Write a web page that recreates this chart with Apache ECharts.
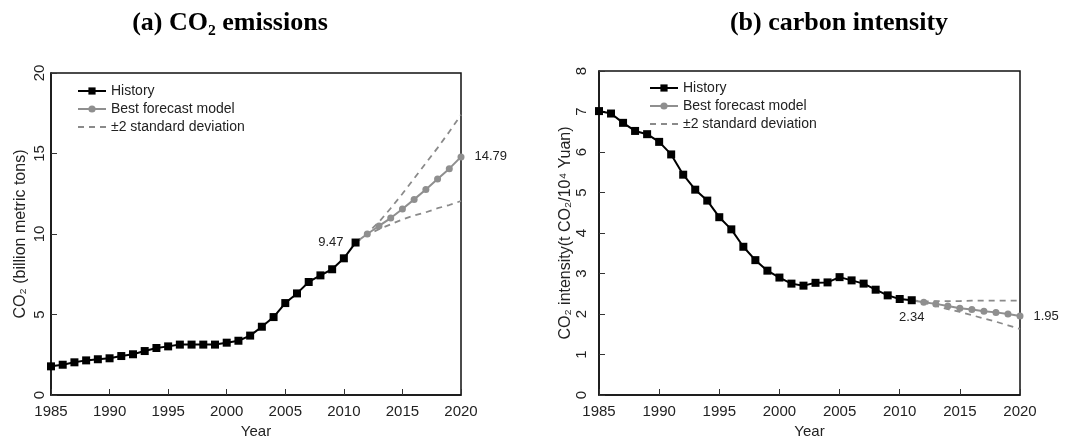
<!DOCTYPE html>
<html>
<head>
<meta charset="utf-8">
<script src="https://cdn.jsdelivr.net/npm/echarts@6/dist/echarts.min.js"></script>
<style>
html,body{margin:0;padding:0;background:#fff;}
#chart{width:1070px;height:438px;}
</style>
</head>
<body>
<div id="chart"></div>
<script>
// ---- data ----
var histYears = [1985,1986,1987,1988,1989,1990,1991,1992,1993,1994,1995,1996,1997,1998,1999,2000,2001,2002,2003,2004,2005,2006,2007,2008,2009,2010,2011];
var co2History = [1.78,1.88,2.03,2.15,2.22,2.28,2.42,2.53,2.73,2.92,3.02,3.13,3.13,3.13,3.13,3.25,3.37,3.69,4.24,4.84,5.71,6.31,7.02,7.43,7.81,8.49,9.47];
var intensityHistory = [7.01,6.95,6.72,6.52,6.44,6.25,5.94,5.44,5.07,4.80,4.39,4.09,3.66,3.33,3.07,2.90,2.75,2.70,2.77,2.78,2.91,2.83,2.75,2.60,2.46,2.37,2.34];

var fcYears = [2011,2012,2013,2014,2015,2016,2017,2018,2019,2020];
var co2Forecast = [9.47,10.0,10.5,10.99,11.55,12.15,12.77,13.42,14.06,14.79];
var co2Upper = [9.47,10.05,10.75,11.6,12.5,13.45,14.4,15.35,16.35,17.4];
var co2Lower = [9.47,9.95,10.3,10.6,10.9,11.15,11.35,11.6,11.8,12.05];

var intensityForecast = [2.34,2.29,2.25,2.20,2.14,2.11,2.07,2.04,2.00,1.95];
var intensityUpper = [2.34,2.31,2.32,2.32,2.32,2.33,2.33,2.33,2.33,2.33];
var intensityLower = [2.34,2.28,2.20,2.12,2.05,1.97,1.89,1.81,1.72,1.63];

var xTicks = {min:1985, max:2020, interval:5};
var leftYTicks = {min:0, max:20, interval:5};
var rightYTicks = {min:0, max:8, interval:1};

var titles = ['(a) CO\u2082 emissions', '(b) carbon intensity'];
var yNames = ['CO\u2082 (billion metric tons)', 'CO\u2082 intensity(t CO\u2082/10\u2074 Yuan)'];
var names = {hist:'History', fc:'Best forecast model', sd:'\u00B12 standard deviation'};

// ---- helpers ----
var font = 'Liberation Sans';
var grey = '#8f8f8f';
var dashGrey = '#8a8a8a';

function valueLabel(pos, dist){
  return {show:true, position:pos, distance:dist,
    formatter: function(p){return p.value[1].toFixed(2);}, color:'#222', fontSize:13, fontFamily:font};
}
function histPoints(xs, ys, pos, dist){
  return xs.map(function(x,i){
    var item = {value:[x, ys[i]]};
    if (i === xs.length-1) item.label = valueLabel(pos, dist);
    return item;
  });
}
function fcPoints(xs, ys, dist){
  return xs.map(function(x,i){
    var item = {value:[x, ys[i]]};
    if (i === 0) item.symbolSize = 0;
    if (i === xs.length-1) item.label = valueLabel('right', dist);
    return item;
  });
}
function simple(xs, ys){ return xs.map(function(x,i){return [x, ys[i]];}); }

function xAxisDef(gi){
  return {
    type:'value', gridIndex:gi, min:xTicks.min, max:xTicks.max, interval:xTicks.interval,
    name:'Year', nameLocation:'middle', nameGap:27,
    nameTextStyle:{color:'#222', fontSize:15, fontFamily:font},
    axisLine:{lineStyle:{color:'#111', width:1.5}},
    axisTick:{inside:true, length:6, lineStyle:{color:'#333'}},
    axisLabel:{color:'#222', fontSize:15, fontFamily:font, margin:9, formatter:function(v){return String(v);}},
    splitLine:{show:false}
  };
}
function yAxisDef(gi, t, name, labMargin, nameGap){
  return {
    type:'value', gridIndex:gi, min:t.min, max:t.max, interval:t.interval,
    name:name, nameLocation:'middle', nameGap:nameGap,
    nameTextStyle:{color:'#222', fontSize:16, fontFamily:font},
    axisLine:{lineStyle:{color:'#111', width:1.5}},
    axisTick:{inside:true, length:6, lineStyle:{color:'#333'}},
    axisLabel:{color:'#222', fontSize:15, fontFamily:font, rotate:90, margin:labMargin},
    splitLine:{show:false}
  };
}

function seriesFor(gi, hist, fc, up, lo, histLabelPos, histLabelDist, fcDist){
  return [
    {name:names.sd, type:'line', xAxisIndex:gi, yAxisIndex:gi, data:simple(fcYears, up), symbol:'none',
      lineStyle:{color:dashGrey, width:1.8, type:[6,5]}, itemStyle:{color:dashGrey}, z:2, silent:true},
    {name:names.sd, type:'line', xAxisIndex:gi, yAxisIndex:gi, data:simple(fcYears, lo), symbol:'none',
      lineStyle:{color:dashGrey, width:1.8, type:[6,5]}, itemStyle:{color:dashGrey}, z:2, silent:true},
    {name:names.fc, type:'line', xAxisIndex:gi, yAxisIndex:gi, data:fcPoints(fcYears, fc, fcDist), symbol:'circle', symbolSize:7,
      lineStyle:{color:grey, width:2}, itemStyle:{color:grey}, z:3},
    {name:names.hist, type:'line', xAxisIndex:gi, yAxisIndex:gi,
      data:histPoints(histYears, hist, histLabelPos, histLabelDist), symbol:'rect', symbolSize:8,
      lineStyle:{color:'#000', width:2}, itemStyle:{color:'#000'}, z:4}
  ];
}

function legendDef(left, top){
  return {
    show:true, orient:'vertical', left:left, top:top, itemWidth:28, itemHeight:9, itemGap:4,
    data:[names.hist, names.fc, {name:names.sd, itemStyle:{opacity:0}}],
    textStyle:{color:'#222', fontSize:14, fontFamily:font},
    selectedMode:false
  };
}

var chart = echarts.init(document.getElementById('chart'), null, {renderer:'canvas'});
var option = {
  backgroundColor:'#fff',
  animation:false,
  title:[
    {text:titles[0], left:225, top:5, textAlign:'center',
      textStyle:{fontFamily:'Liberation Serif', fontWeight:'bold', fontSize:26, color:'#000'}},
    {text:titles[1], left:834, top:5, textAlign:'center',
      textStyle:{fontFamily:'Liberation Serif', fontWeight:'bold', fontSize:26, color:'#000'}}
  ],
  legend:[legendDef(72, 79), legendDef(644, 76)],
  grid:[
    {left:51, right:609, top:73, bottom:43, show:true, borderColor:'#111', borderWidth:1.5, outerBoundsMode:'none', containLabel:false},
    {left:599, right:50, top:71, bottom:43, show:true, borderColor:'#111', borderWidth:1.5, outerBoundsMode:'none', containLabel:false}
  ],
  xAxis:[xAxisDef(0), xAxisDef(1)],
  yAxis:[yAxisDef(0, leftYTicks, yNames[0], 4, 22), yAxisDef(1, rightYTicks, yNames[1], 10, 25)],
  series: seriesFor(0, co2History, co2Forecast, co2Upper, co2Lower, 'left', 8, 10)
    .concat(seriesFor(1, intensityHistory, intensityForecast, intensityUpper, intensityLower, 'bottom', 7, 10))
};
chart.setOption(option);
</script>
</body>
</html>
